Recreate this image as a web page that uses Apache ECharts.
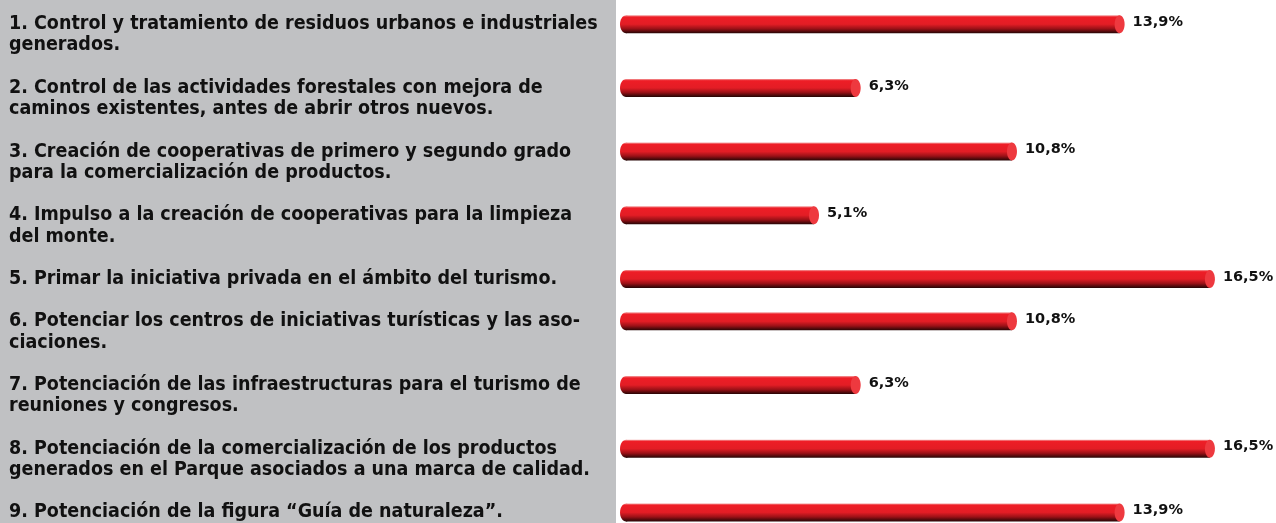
<!DOCTYPE html>
<html>
<head>
<meta charset="utf-8">
<script src="https://cdn.jsdelivr.net/npm/echarts@6/dist/echarts.min.js"></script>
<style>
  html, body { margin: 0; padding: 0; background: #fff; }
  #container { width: 1276px; height: 523px; }
</style>
</head>
<body>
<div id="container"></div>
<script>
// etiquetas (cada una en sus lineas, como en el original)
var labels = [
	["1. Control y tratamiento de residuos urbanos e industriales", "generados."],
	["2. Control de las actividades forestales con mejora de", "caminos existentes, antes de abrir otros nuevos."],
	["3. Creación de cooperativas de primero y segundo grado", "para la comercialización de productos."],
	["4. Impulso a la creación de cooperativas para la limpieza", "del monte."],
	["5. Primar la iniciativa privada en el ámbito del turismo."],
	["6. Potenciar los centros de iniciativas turísticas y las aso-", "ciaciones."],
	["7. Potenciación de las infraestructuras para el turismo de", "reuniones y congresos."],
	["8. Potenciación de la comercialización de los productos", "generados en el Parque asociados a una marca de calidad."],
	["9. Potenciación de la figura “Guía de naturaleza”."]
];
var values = [13.9, 6.3, 10.8, 5.1, 16.5, 10.8, 6.3, 16.5, 13.9];

var myChart = echarts.init(document.getElementById("container"));

// la linea de texto en la que empieza cada fila (una linea en blanco entre filas)
var rows = [];
var line = 0;
for (var i = 0; i < labels.length; i++) {
	rows.push([values[i], line, i]);
	line += labels[i].length + 1;
}

var barH = 18;
var bodyFill = new echarts.graphic.LinearGradient(0, 0, 0, 1, [
	{ offset: 0, color: '#f3a3a3' },
	{ offset: 0.1, color: '#ee1d26' },
	{ offset: 0.5, color: '#e31d25' },
	{ offset: 0.75, color: '#9b1117' },
	{ offset: 1, color: '#250505' }
]);

function renderItem(params, api) {
	var x0 = params.coordSys.x;
	var end = api.coord([api.value(0), api.value(1)]);
	var cy = end[1], x1 = end[0];
	var rx = 6;
	var idx = api.value(2);
	return {
		type: 'group',
		children: [
			{ type: 'text', silent: true, style: {
				x: 9, y: cy - 10.6,
				text: labels[idx].join('\n'),
				fill: '#111',
				font: 'bold 19.5px "DejaVu Sans Condensed", sans-serif',
				lineHeight: 21.2,
				verticalAlign: 'top'
			} },
			{ type: 'ellipse', shape: { cx: x0 + rx, cy: cy, rx: rx, ry: barH / 2 }, style: { fill: bodyFill } },
			{ type: 'rect', shape: { x: x0 + rx, y: cy - barH / 2, width: x1 - x0 - 2 * rx + 1, height: barH }, style: { fill: bodyFill } },
			{ type: 'ellipse', shape: { cx: x1 - 5, cy: cy, rx: 5, ry: barH / 2 }, style: { fill: '#ee393f' } },
			{ type: 'text', silent: true, style: {
				x: x1 + 8, y: cy - 2,
				text: String(api.value(0)).replace('.', ',') + '%',
				fill: '#111',
				font: 'bold 14.5px "DejaVu Sans", sans-serif',
				verticalAlign: 'middle'
			} }
		]
	};
}

var option = {
	animation: false,
	backgroundColor: '#fff',
	graphic: [
		{ type: 'rect', z: -10, shape: { x: 0, y: 0, width: 616, height: 523 }, style: { fill: '#c0c1c3' } }
	],
	grid: { left: 620, right: 9, top: 3, height: 520 },
	xAxis: { type: 'value', min: -0.63, max: 18, show: false },
	yAxis: { type: 'value', inverse: true, min: -1, max: 23.5, show: false },
	series: [
		{
			type: 'custom',
			renderItem: renderItem,
			encode: { x: 0, y: 1 },
			data: rows,
			clip: false
		}
	]
};
myChart.setOption(option);
</script>
</body>
</html>
